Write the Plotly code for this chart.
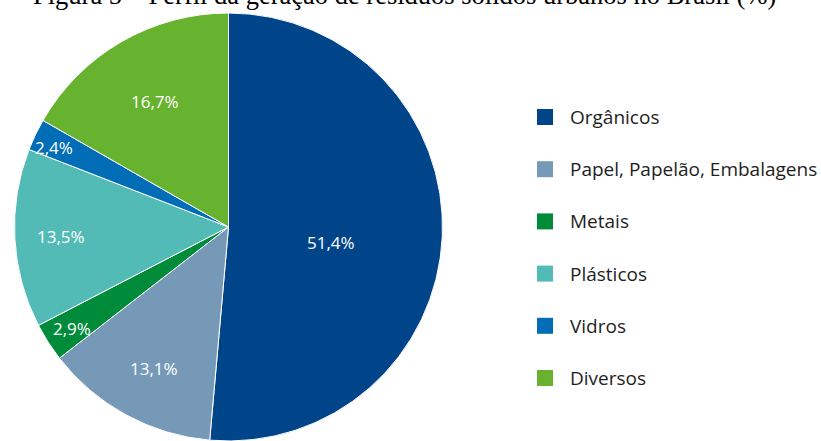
import plotly.graph_objects as go

# Waste composition (%)
categories = ["Orgânicos", "Papel, Papelão, Embalagens", "Metais", "Plásticos", "Vidros", "Diversos"]
shares = [51.4, 13.1, 2.9, 13.5, 2.4, 16.7]
colors = ["#00458a", "#7799b8", "#008b3b", "#52bbb5", "#006db6", "#67b22f"]

title_text = "Figura 5 – Perfil da geração de resíduos sólidos urbanos no Brasil (%)"

W, H = 821, 441
TOP = 13                 # top margin (px)
PLOT_H = H - TOP
PIE_W = 457              # width of the pie domain (px)

# Pixel anchor of each slice label (in slice order)
label_px = [(331, 242), (154, 368), (72, 328), (61, 237), (54, 147), (155, 102)]


def fmt(v):
    return f"{v:.1f}".replace(".", ",") + "%"


def to_paper(px, py):
    return px / W, 1 - (py - TOP) / PLOT_H


fig = go.Figure(
    go.Pie(
        labels=categories,
        values=shares,
        sort=False,
        direction="clockwise",
        rotation=0,
        marker=dict(colors=colors, line=dict(color="white", width=1)),
        textinfo="none",
        hoverinfo="label+percent",
        showlegend=False,
        domain=dict(x=[0, PIE_W / W], y=[0, 1]),
    )
)

annotations = []
for v, (px, py) in zip(shares, label_px):
    x, y = to_paper(px, py)
    annotations.append(dict(
        x=x, y=y, xref="paper", yref="paper", text=fmt(v), showarrow=False,
        xanchor="center", yanchor="middle",
        font=dict(family="Open Sans", size=17, color="white"),
    ))

# Hand-built legend: colored squares with labels
shapes = []
LEG_Y0, LEG_STEP = 117, 52.2
SQ = 16
for i, (name, c) in enumerate(zip(categories, colors)):
    cy = LEG_Y0 + i * LEG_STEP
    x0, y_top = to_paper(537, cy - SQ / 2)
    x1, y_bot = to_paper(537 + SQ, cy + SQ / 2)
    shapes.append(dict(type="rect", xref="paper", yref="paper",
                       x0=x0, x1=x1, y0=y_bot, y1=y_top,
                       fillcolor=c, line=dict(width=0)))
    tx, ty = to_paper(568, cy)
    annotations.append(dict(
        x=tx, y=ty, xref="paper", yref="paper", text=name, showarrow=False,
        xanchor="left", yanchor="middle",
        font=dict(family="Open Sans", size=19, color="#1e1e1e"),
    ))

# Caption running off the top edge
tx, ty = to_paper(404, -5)
annotations.append(dict(
    x=tx, y=ty, xref="paper", yref="paper", text=title_text, showarrow=False,
    xanchor="center", yanchor="middle",
    font=dict(family="Liberation Serif", size=26.5, color="black"),
))

fig.update_layout(
    width=W, height=H,
    margin=dict(l=0, r=0, t=TOP, b=0, pad=0),
    paper_bgcolor="white", plot_bgcolor="white",
    annotations=annotations, shapes=shapes,
)

fig.write_html("out.html")
